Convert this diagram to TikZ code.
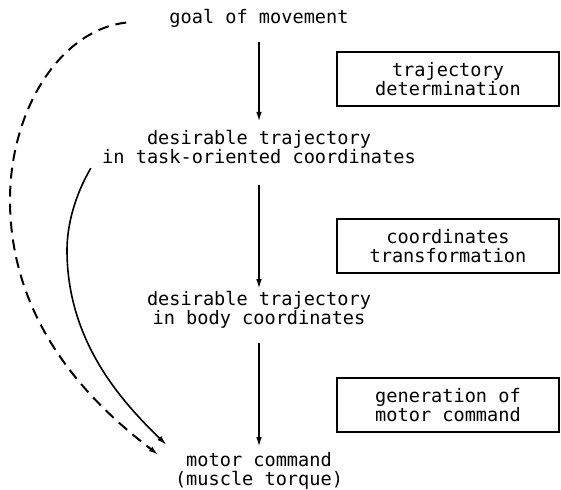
\documentclass[tikz,border=0pt]{standalone}
\usepackage{fontspec}
\newfontfamily\typefont{DejaVu Sans Mono}
\usepackage{tikz}
\usetikzlibrary{arrows.meta, calc}

\begin{document}
\begin{tikzpicture}[x=0.5pt, y=-0.5pt, >={Latex[length=5pt,width=2.8pt]},
    stagetext/.style={font=\typefont\fontsize{9.3}{9.5}\selectfont, align=center, inner sep=1pt},
    stagebox/.style={draw, line width=1.2pt, font=\typefont\fontsize{9.3}{9.5}\selectfont, align=center, minimum width=111pt, minimum height=27pt},
    flow/.style={->, line width=0.9pt},
    dashflow/.style={->, line width=1pt, dash pattern=on 5.5pt off 3.5pt},
    solidflow/.style={->, line width=0.8pt}]
    \useasboundingbox (0,0) rectangle (561,489);

    % main column
    \node (goal) [stagetext] at (259,18) {goal of movement};
    \node (task) [stagetext] at (259,147) {desirable trajectory\\in task-oriented coordinates};
    \node (body) [stagetext] at (259,310) {desirable trajectory\\in body coordinates};
    \node (motor) [stagetext] at (259,471) {motor command\\(muscle torque)};

    % stages
    \node (trajdet) [stagebox] at (448,79) {trajectory\\determination};
    \node (coordtf) [stagebox] at (448,246) {coordinates\\transformation};
    \node (motorgen) [stagebox] at (448,405) {generation of\\motor command};

    \draw [flow, shorten <=6.3pt, shorten >=3pt] (goal) -- (task);
    \draw [flow, shorten <=9.6pt] (task) -- (body);
    \draw [flow, shorten <=6pt, shorten >=1.5pt] (body) -- (motor);

    % bypass paths
    \draw [dashflow, shorten <=20.5pt] (goal.west) .. controls (60,30) and (10,110) .. (10,200)
        .. controls (10,330) and (100,410) .. ([shift={(-14,-16)}]motor.west);
    \draw [solidflow] ([shift={(-9,2)}]task.south west) .. controls (75,195) and (67,225) .. (67,250)
        .. controls (67,340) and (120,400) .. ([shift={(-6,-26)}]motor.west);
\end{tikzpicture}
\end{document}
